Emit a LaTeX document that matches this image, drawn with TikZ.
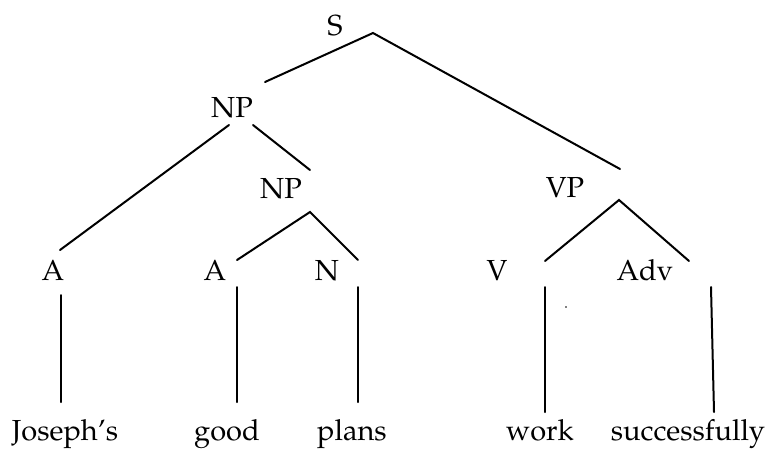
\documentclass[tikz,border=0pt]{standalone}
\usepackage[T1]{fontenc}
\usepackage{mathpazo}
\usepackage{tikz}

\tikzset{
	lbl/.style={anchor=base, inner sep=0pt, font=\fontsize{29}{33}\selectfont},
	branch/.style={line width=2pt, line cap=round}
}

\begin{document}
\begin{tikzpicture}[x=1pt, y=-1pt]
		%%%%% START %%%%%
		\useasboundingbox (0, 0) rectangle (768, 448);
		
		% categories
		\node[lbl] (s) at (335, 35) {S};
		\node[lbl] (np) at (232, 117) {NP};
		\node[lbl] (npb) at (281, 198) {NP};
		\node[lbl] (vp) at (565, 197) {VP};
		\node[lbl] (aa) at (53, 280) {A};
		\node[lbl] (ab) at (215, 280) {A};
		\node[lbl] (n) at (327, 280) {N};
		\node[lbl] (v) at (497, 280) {V};
		\node[lbl] (adv) at (645, 280) {Adv};
		
		% words
		\node[lbl] (joseph) at (65, 440) {Joseph's};
		\node[lbl] (good) at (227, 440) {good};
		\node[lbl] (plans) at (352, 440) {plans};
		\node[lbl] (work) at (540, 440) {work};
		\node[lbl] (succ) at (688, 440) {successfully};
		
		% branch ends
		\coordinate (stop) at (373, 33);
		\coordinate (sl) at (265, 82);
		\coordinate (sr) at (620, 169);
		\coordinate (npl) at (229, 125);
		\coordinate (npr) at (253, 125);
		\coordinate (aaup) at (60, 250);
		\coordinate (npbup) at (310, 170);
		\coordinate (npbtop) at (310, 212);
		\coordinate (abup) at (237, 260);
		\coordinate (nup) at (358, 260);
		\coordinate (vptop) at (619, 200);
		\coordinate (vup) at (545, 261);
		\coordinate (advup) at (689, 261);
		
		\draw[branch] (sl) -- (stop) -- (sr);
		\draw[branch] (npl) -- (aaup);
		\draw[branch] (npr) -- (npbup);
		\draw[branch] (abup) -- (npbtop) -- (nup);
		\draw[branch] (vup) -- (vptop) -- (advup);
		
		\draw[branch] (61, 295) -- (61, 402);
		\draw[branch] (237, 287) -- (237, 402);
		\draw[branch] (358, 287) -- (358, 402);
		\draw[branch] (545, 287) -- (545, 412);
		\draw[branch] (711, 287) -- (714, 412);
		
		\fill (566, 307) circle (0.9);
		%%%%% END %%%%%
	\end{tikzpicture}
\end{document}
